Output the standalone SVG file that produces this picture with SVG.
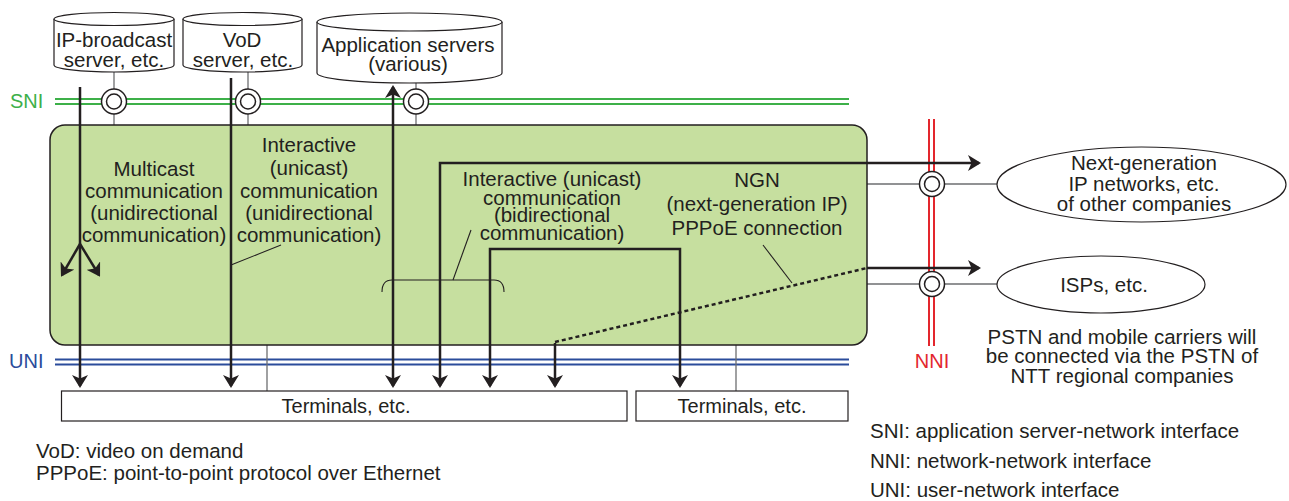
<svg xmlns="http://www.w3.org/2000/svg" width="1289" height="501" viewBox="0 0 1289 501">
<style>
text{font-family:"Liberation Sans",Arial,Helvetica,sans-serif;fill:#231f20}
.t{font-size:20.5px;text-anchor:middle}
.fl{font-size:20.5px}
.fr{font-size:20.5px}
.cyl{fill:#fff;stroke:#231f20;stroke-width:1.2}
.thin{stroke:#6d6e70;stroke-width:1.3;fill:none}
.lead{stroke:#231f20;stroke-width:1.1;fill:none}
.arr{stroke:#231f20;stroke-width:2.5;fill:none}
.ring{fill:#fff;stroke:#231f20;stroke-width:1.5}
.sni{stroke:#3db049;stroke-width:2}
.uni{stroke:#2b4c9b;stroke-width:2}
.nni{stroke:#e3262d;stroke-width:2}
</style>
<defs>
<marker id="ah" viewBox="0 0 13 16" refX="11" refY="8" markerWidth="13" markerHeight="16" markerUnits="userSpaceOnUse" orient="auto-start-reverse">
<path d="M0,0 L13,8 L0,16 L3.5,8 Z" fill="#231f20"/>
</marker>
</defs>

<!-- interface lines -->
<g id="sni-line">
<line class="sni" x1="55" y1="99" x2="849" y2="99"/>
<line class="sni" x1="55" y1="104" x2="849" y2="104"/>
<text x="10" y="108" style="font-size:20px;fill:#3db049">SNI</text>
</g>
<g id="uni-line">
<line class="uni" x1="55" y1="359.5" x2="849" y2="359.5"/>
<line class="uni" x1="55" y1="364.5" x2="849" y2="364.5"/>
<text x="9" y="368" style="font-size:20px;fill:#2b4c9b">UNI</text>
</g>

<!-- stems -->
<g id="stems">
<line class="thin" x1="114" y1="72" x2="114" y2="125"/>
<line class="thin" x1="248" y1="72" x2="248" y2="125"/>
<line class="thin" x1="416" y1="82" x2="416" y2="125"/>
<line class="thin" x1="267" y1="345" x2="267" y2="391"/>
<line class="thin" x1="736" y1="345" x2="736" y2="391"/>
<line class="thin" x1="867" y1="184" x2="997" y2="184"/>
<line class="thin" x1="867" y1="284" x2="997" y2="284"/>
</g>

<!-- NGN box -->
<g id="ngn">
<rect x="50" y="125" width="817" height="220" rx="15" ry="15" fill="#c6df9f" stroke="#231f20" stroke-width="1.5"/>
<text class="t" x="757" y="187">NGN</text>
<text class="t" x="757" y="211">(next-generation IP)</text>
<text class="t" x="757" y="235">PPPoE connection</text>
</g>

<g id="nni-line">
<line class="nni" x1="929" y1="119" x2="929" y2="346"/>
<line class="nni" x1="934" y1="119" x2="934" y2="346"/>
<text x="932" y="368" style="font-size:20px;fill:#e3262d;text-anchor:middle">NNI</text>
</g>

<!-- servers -->
<g id="ip-broadcast">
<path class="cyl" d="M54,19 A60,6.5 0 0 1 174,19 V65 A60,7 0 0 1 54,65 Z"/>
<path class="cyl" d="M54,19 A60,6.5 0 0 0 174,19" fill="none"/>
<text class="t" x="114" y="47">IP-broadcast</text>
<text class="t" x="114" y="67">server, etc.</text>
</g>
<g id="vod">
<path class="cyl" d="M183,19 A59.5,6.5 0 0 1 302,19 V65 A59.5,7 0 0 1 183,65 Z"/>
<path class="cyl" d="M183,19 A59.5,6.5 0 0 0 302,19" fill="none"/>
<text class="t" x="242" y="47">VoD</text>
<text class="t" x="243" y="67">server, etc.</text>
</g>
<g id="app-servers">
<path class="cyl" d="M317,22 A92.5,9 0 0 1 502,22 V73 A92.5,10 0 0 1 317,73 Z"/>
<path class="cyl" d="M317,22 A92.5,9 0 0 0 502,22" fill="none"/>
<text class="t" x="408" y="52">Application servers</text>
<text class="t" x="408" y="71">(various)</text>
</g>

<!-- interface points -->
<g id="points">
<circle class="ring" cx="114" cy="101.5" r="12.5"/><circle class="ring" cx="114" cy="101.5" r="7.5"/>
<circle class="ring" cx="248" cy="101.5" r="12.5"/><circle class="ring" cx="248" cy="101.5" r="7.5"/>
<circle class="ring" cx="416" cy="101.5" r="12.5"/><circle class="ring" cx="416" cy="101.5" r="7.5"/>
<circle class="ring" cx="932" cy="184" r="12.5"/><circle class="ring" cx="932" cy="184" r="7.5"/>
<circle class="ring" cx="932" cy="284" r="12.5"/><circle class="ring" cx="932" cy="284" r="7.5"/>
</g>

<!-- external networks -->
<g id="other-ngn">
<ellipse cx="1141.5" cy="184.5" rx="144.5" ry="37.5" fill="#fff" stroke="#231f20" stroke-width="1.2"/>
<text class="t" x="1144" y="170">Next-generation</text>
<text class="t" x="1144" y="191">IP networks, etc.</text>
<text class="t" x="1144" y="211">of other companies</text>
</g>
<g id="isps">
<ellipse cx="1101" cy="284.5" rx="104" ry="28.5" fill="#fff" stroke="#231f20" stroke-width="1.2"/>
<text class="t" x="1104" y="292">ISPs, etc.</text>
</g>

<!-- terminals -->
<g id="terminals-1">
<rect x="61.5" y="391" width="565.5" height="30" fill="#fff" stroke="#231f20" stroke-width="1.2"/>
<text class="t" x="346" y="413" style="font-size:20px">Terminals, etc.</text>
</g>
<g id="terminals-2">
<rect x="636" y="391" width="212" height="30" fill="#fff" stroke="#231f20" stroke-width="1.2"/>
<text class="t" x="742" y="413" style="font-size:20px">Terminals, etc.</text>
</g>

<!-- communication labels -->
<g id="labels">
<text class="t" x="154" y="176">Multicast</text>
<text class="t" x="154" y="198">communication</text>
<text class="t" x="154" y="220">(unidirectional</text>
<text class="t" x="154" y="242">communication)</text>
<text class="t" x="309" y="152">Interactive</text>
<text class="t" x="309" y="175">(unicast)</text>
<text class="t" x="309" y="198">communication</text>
<text class="t" x="309" y="220">(unidirectional</text>
<text class="t" x="309" y="242">communication)</text>
<text class="t" x="552" y="186">Interactive (unicast)</text>
<text class="t" x="552" y="205">communication</text>
<text class="t" x="552" y="222">(bidirectional</text>
<text class="t" x="552" y="240">communication)</text>
</g>

<!-- connectors -->
<g id="connectors">
<path class="lead" d="M281,245 L231,265"/>
<path class="lead" d="M382,292 Q382,280 392,280 H494 Q504,280 504,292"/>
<path class="lead" d="M453,280 L471,230"/>
<path class="lead" d="M763,245 L792,283"/>
<path class="arr" d="M80,87 V386" marker-end="url(#ah)"/>
<path class="arr" d="M80,244 L62,275" marker-end="url(#ah)"/>
<path class="arr" d="M80,244 L99,275" marker-end="url(#ah)"/>
<path class="arr" d="M231,78 V386" marker-end="url(#ah)"/>
<path class="arr" d="M393,87 V386" marker-start="url(#ah)" marker-end="url(#ah)"/>
<path class="arr" d="M440,386 V163 H979" marker-start="url(#ah)" marker-end="url(#ah)"/>
<path class="arr" d="M490,386 V249 H680 V386" marker-start="url(#ah)" marker-end="url(#ah)"/>
<path class="arr" d="M555,343 V386" marker-end="url(#ah)"/>
<path class="arr" d="M555,342 L867,268" stroke-dasharray="4,3"/>
<path class="arr" d="M867,268 H979" marker-end="url(#ah)"/>
</g>

<!-- notes -->
<g id="notes">
<text class="t" x="1122" y="344">PSTN and mobile carriers will</text>
<text class="t" x="1122" y="363">be connected via the PSTN of</text>
<text class="t" x="1122" y="383">NTT regional companies</text>
<text class="fl" x="36" y="458">VoD: video on demand</text>
<text class="fl" x="36" y="480">PPPoE: point-to-point protocol over Ethernet</text>
<text class="fr" x="870" y="438">SNI: application server-network interface</text>
<text class="fr" x="870" y="468">NNI: network-network interface</text>
<text class="fr" x="870" y="497">UNI: user-network interface</text>
</g>
</svg>
